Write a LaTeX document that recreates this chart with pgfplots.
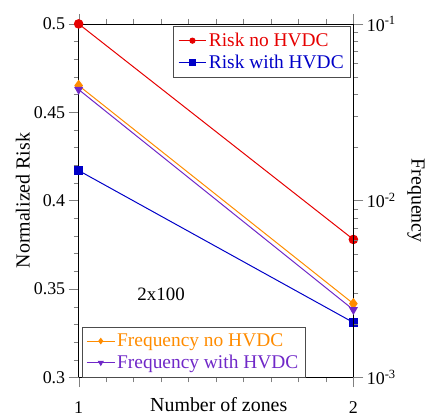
\documentclass[border=0pt]{standalone}
\usepackage{pgfplots}
\pgfplotsset{compat=1.18}
\usepackage{fontspec}
\setmainfont{Liberation Serif}

\definecolor{riskno}{RGB}{230,0,0}
\definecolor{riskwith}{RGB}{0,0,200}
\definecolor{freqno}{RGB}{255,140,0}
\definecolor{freqwith}{RGB}{112,40,200}

\pgfplotsset{
  common/.style={
    scale only axis, width=276bp, height=355bp,
    xmin=1, xmax=2, xtick={1,2}, minor x tick num=9,
    tick align=outside, clip=false,
    major tick length=10bp, minor tick length=5bp,
    every tick label/.append style={font=\fontsize{18bp}{20bp}\selectfont},
    /pgf/number format/assume math mode=true,
    legend cell align=left,
    legend image code/.code={\draw[mark repeat=2,mark phase=2,mark size=2.6pt]
      plot coordinates {(0bp,0bp)(14bp,0bp)(28bp,0bp)};},
    legend style={font=\fontsize{19.5bp}{21bp}\selectfont, draw=black!70,
      inner xsep=4.5bp, inner ysep=5bp, row sep=3bp},
  },
}

\begin{document}
\begin{tikzpicture}
\begin{axis}[common, name=ax,
  axis y line*=left,
  ymin=0.3, ymax=0.5, ytick={0.3,0.35,0.4,0.45,0.5},
  yticklabels={0.3,0.35,0.4,0.45,0.5},
  minor y tick num=4,
  xticklabel style={yshift=-11bp},
  xlabel={Number of zones}, ylabel={Normalized Risk},
  xlabel style={font=\fontsize{20bp}{22bp}\selectfont,
    at={(axis description cs:0.51,-0.076)}, anchor=center},
  ylabel style={font=\fontsize{20bp}{22bp}\selectfont,
    at={(axis description cs:-0.203,0.5)}, anchor=center},
  legend style={at={(0.989,0.994)}, anchor=north east},
]
\addplot[riskno, line width=1pt, mark=*, mark size=4.3pt] coordinates {(1,0.5) (2,0.378)};
\addlegendentry{\textcolor{riskno}{Risk no HVDC}}
\addplot[riskwith, line width=1pt, mark=square*, mark size=4.3pt] coordinates {(1,0.417) (2,0.331)};
\addlegendentry{\textcolor{riskwith}{Risk with HVDC}}
\node[font=\fontsize{19bp}{21bp}\selectfont] at (axis cs:1.30,0.3468) {2x100};
\end{axis}
\begin{axis}[common,
  axis y line*=right, axis x line=none,
  ymode=log, ymin=1e-3, ymax=1e-1,
  ytick={1e-3,1e-2,1e-1},
  yticklabels={10\textsuperscript{-3},10\textsuperscript{-2},10\textsuperscript{-1}},
  ylabel={Frequency},
  ylabel style={font=\fontsize{20bp}{22bp}\selectfont,
    at={(axis description cs:1.228,0.5)}, anchor=center, rotate=180},
  legend style={at={(0.011,0.0)}, anchor=south west},
]
\addplot[freqno, line width=1pt, mark=diamond*, mark size=5pt] coordinates {(1,0.0448) (2,0.00261)};
\addlegendentry{\textcolor{freqno}{Frequency no HVDC}}
\addplot[freqwith, line width=1pt, mark=triangle*, mark options={rotate=180}, mark size=4.3pt] coordinates {(1,0.0425) (2,0.00241)};
\addlegendentry{\textcolor{freqwith}{Frequency with HVDC}}
\end{axis}
\path[use as bounding box] ([xshift=-79bp,yshift=-37bp]ax.south west)
  rectangle ([xshift=73bp,yshift=24bp]ax.north east);
\end{tikzpicture}
\end{document}
